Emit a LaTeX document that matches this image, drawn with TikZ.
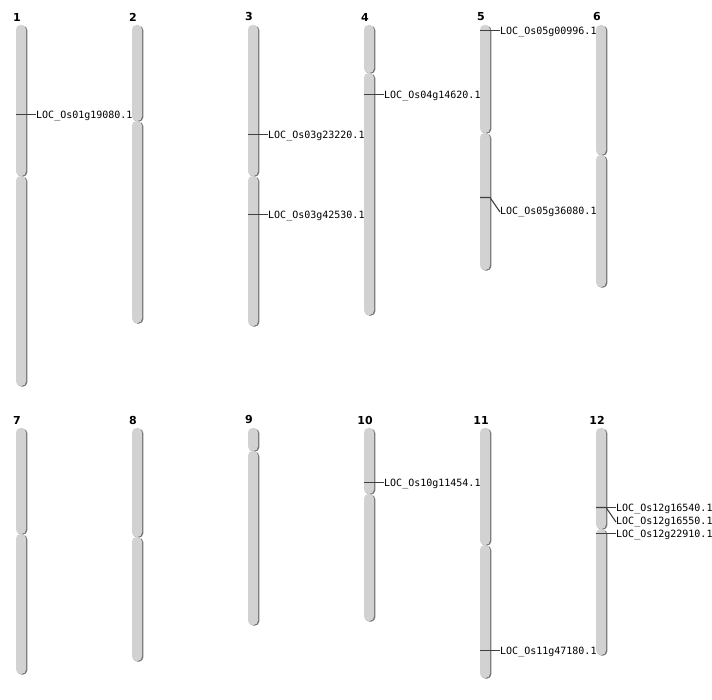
\documentclass[tikz,border=0pt]{standalone}
\usepackage{fontspec}
\setmainfont{DejaVu Sans}
\newfontfamily\genefont{DejaVu Sans Mono}
\usetikzlibrary{shadows}

\begin{document}
\begin{tikzpicture}[x=1pt,y=-1pt,
  arm/.style={fill=gray!35, draw=none, rounded corners=4.5,
    drop shadow={shadow xshift=1.3pt, shadow yshift=-0.7pt, opacity=1, fill=black!55}},
  chrnum/.style={font=\fontsize{11}{13}\selectfont\bfseries, inner sep=0pt},
  gene/.style={font=\fontsize{10}{12}\selectfont\genefont, anchor=west, inner sep=0pt},
  tick/.style={draw=black!75, line width=1.1pt}]
\useasboundingbox (0,0) rectangle (712,700);

% top row
\path[arm] (16,25) rectangle (26,176);
\path[arm] (16,176) rectangle (26,386);
\node[chrnum] (n1) at (17,17) {1};

\path[arm] (132,25) rectangle (142,121);
\path[arm] (132,121) rectangle (142,323);
\node[chrnum] (n2) at (133,17) {2};

\path[arm] (248,25) rectangle (258,176);
\path[arm] (248,176) rectangle (258,326);
\node[chrnum] (n3) at (249,17) {3};

\path[arm] (364,25) rectangle (374,73);
\path[arm] (364,73) rectangle (374,315);
\node[chrnum] (n4) at (365,17) {4};

\path[arm] (480,25) rectangle (490,133);
\path[arm] (480,133) rectangle (490,270);
\node[chrnum] (n5) at (481,17) {5};

\path[arm] (596,25) rectangle (606,155);
\path[arm] (596,155) rectangle (606,287);
\node[chrnum] (n6) at (597,17) {6};

% bottom row
\path[arm] (16,428) rectangle (26,534);
\path[arm] (16,534) rectangle (26,674);
\node[chrnum] (n7) at (17,420) {7};

\path[arm] (132,428) rectangle (142,537);
\path[arm] (132,537) rectangle (142,661);
\node[chrnum] (n8) at (133,420) {8};

\path[arm] (248,428) rectangle (258,451);
\path[arm] (248,451) rectangle (258,625);
\node[chrnum] (n9) at (249,420) {9};

\path[arm] (364,428) rectangle (374,494);
\path[arm] (364,494) rectangle (374,621);
\node[chrnum] (n10) at (365,420) {10};

\path[arm] (480,428) rectangle (490,545);
\path[arm] (480,545) rectangle (490,678);
\node[chrnum] (n11) at (481,420) {11};

\path[arm] (596,428) rectangle (606,529);
\path[arm] (596,529) rectangle (606,655);
\node[chrnum] (n12) at (597,420) {12};

% genes
\coordinate (m1) at (16,114.5);
\node[gene] (g1) at (36,116) {LOC\_Os01g19080.1};
\draw[tick] (m1) -- (m1 -| g1.west);

\coordinate (m3a) at (248,134.5);
\node[gene] (g3a) at (268,136) {LOC\_Os03g23220.1};
\draw[tick] (m3a) -- (m3a -| g3a.west);
\coordinate (m3b) at (248,214.5);
\node[gene] (g3b) at (268,216) {LOC\_Os03g42530.1};
\draw[tick] (m3b) -- (m3b -| g3b.west);

\coordinate (m4) at (364,94.5);
\node[gene] (g4) at (384,96) {LOC\_Os04g14620.1};
\draw[tick] (m4) -- (m4 -| g4.west);

\coordinate (m5a) at (480,30.5);
\node[gene] (g5a) at (500,32) {LOC\_Os05g00996.1};
\draw[tick] (m5a) -- (m5a -| g5a.west);
\coordinate (m5b) at (480,197.5);
\node[gene] (g5b) at (500,212) {LOC\_Os05g36080.1};
\draw[tick] (m5b) -- ++(10,0) -- (g5b.west);

\coordinate (m10) at (364,482.5);
\node[gene] (g10) at (384,484) {LOC\_Os10g11454.1};
\draw[tick] (m10) -- (m10 -| g10.west);

\coordinate (m11) at (480,650.5);
\node[gene] (g11) at (500,652) {LOC\_Os11g47180.1};
\draw[tick] (m11) -- (m11 -| g11.west);

\coordinate (m12a) at (596,507.5);
\node[gene] (g12a) at (616,509) {LOC\_Os12g16540.1};
\draw[tick] (m12a) -- (m12a -| g12a.west);
\node[gene] (g12b) at (616,522) {LOC\_Os12g16550.1};
\draw[tick] (m12a) -- ++(10,0) -- (g12b.west);
\coordinate (m12c) at (596,533.5);
\node[gene] (g12c) at (616,535) {LOC\_Os12g22910.1};
\draw[tick] (m12c) -- (m12c -| g12c.west);

\end{tikzpicture}
\end{document}
